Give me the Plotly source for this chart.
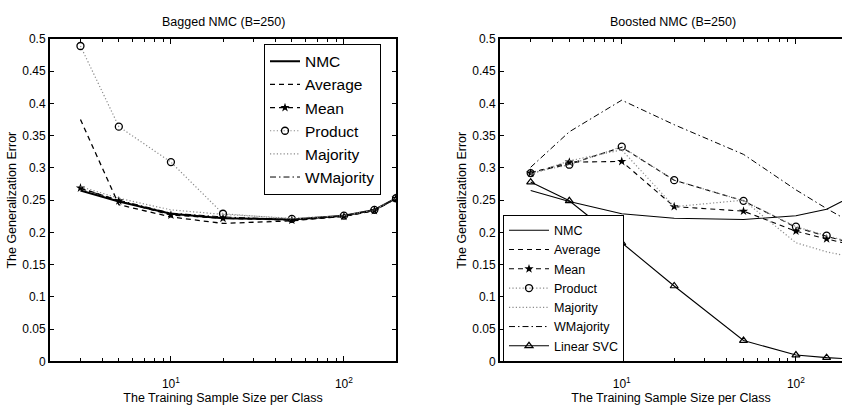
import numpy as np
import plotly.graph_objects as go

# ---------------- data ----------------
sizes = [3, 5, 10, 20, 50, 100, 150, 200]

# Bagged NMC (B=250)
bag_nmc  = [0.265, 0.248, 0.229, 0.222, 0.220, 0.226, 0.235, 0.253]
bag_avg  = [0.375, 0.243, 0.224, 0.214, 0.218, 0.225, 0.234, 0.253]
bag_mean = [0.269, 0.249, 0.227, 0.222, 0.219, 0.225, 0.234, 0.253]
bag_prod = [0.489, 0.364, 0.309, 0.229, 0.221, 0.226, 0.235, 0.253]
bag_maj  = [0.271, 0.253, 0.235, 0.228, 0.222, 0.226, 0.235, 0.253]
bag_wmaj = [0.268, 0.250, 0.230, 0.224, 0.220, 0.226, 0.235, 0.253]

# Boosted NMC (B=250)
bst_nmc  = [0.265, 0.248, 0.229, 0.222, 0.220, 0.226, 0.236, 0.253]
bst_avg  = [0.293, 0.306, 0.332, 0.281, 0.249, 0.208, 0.194, 0.185]
bst_mean = [0.292, 0.309, 0.310, 0.240, 0.233, 0.202, 0.190, 0.182]
bst_prod = [0.292, 0.305, 0.333, 0.281, 0.249, 0.209, 0.195, 0.186]
bst_maj  = [0.290, 0.311, 0.328, 0.240, 0.250, 0.184, 0.170, 0.163]
bst_wmaj = [0.301, 0.356, 0.405, 0.367, 0.321, 0.266, 0.237, 0.218]
bst_svc  = [0.278, 0.249, 0.184, 0.117, 0.0325, 0.010, 0.006, 0.004]

y_ticks = [0, 0.05, 0.1, 0.15, 0.2, 0.25, 0.3, 0.35, 0.4, 0.45, 0.5]
y_ticktext = ["0", "0.05", "0.1", "0.15", "0.2", "0.25", "0.3", "0.35", "0.4", "0.45", "0.5"]
x_major = [10, 100]
x_major_text = ["10<sup>1</sup>", "10<sup>2</sup>"]
x_minor = [2, 3, 4, 5, 6, 7, 8, 9, 20, 30, 40, 50, 60, 70, 80, 90, 200]

FONT = "Liberation Sans, Arial, Helvetica, sans-serif"
GRAY = "#8a8a8a"
DASH = "5px,4px"
DOT = "1.2px,2.2px"
DASHDOT = "6px,3px,1.5px,3px"

fig = go.Figure()

def add_set(xa, ya, legend, nmc, avg, mean, prod, maj, wmaj, nmc_w, other_w):
    fig.add_trace(go.Scatter(x=sizes, y=nmc, name="NMC", mode="lines",
                             line=dict(color="black", width=nmc_w),
                             xaxis=xa, yaxis=ya, legend=legend))
    fig.add_trace(go.Scatter(x=sizes, y=avg, name="Average", mode="lines",
                             line=dict(color="black", width=other_w, dash=DASH),
                             xaxis=xa, yaxis=ya, legend=legend))
    fig.add_trace(go.Scatter(x=sizes, y=mean, name="Mean", mode="lines+markers",
                             line=dict(color="black", width=other_w, dash=DASH),
                             marker=dict(symbol="star", size=7, color="black"),
                             xaxis=xa, yaxis=ya, legend=legend))
    fig.add_trace(go.Scatter(x=sizes, y=prod, name="Product", mode="lines+markers",
                             line=dict(color=GRAY, width=1.2, dash=DOT),
                             marker=dict(symbol="circle-open", size=7, color="black",
                                         line=dict(width=1.3, color="black")),
                             xaxis=xa, yaxis=ya, legend=legend))
    fig.add_trace(go.Scatter(x=sizes, y=maj, name="Majority", mode="lines",
                             line=dict(color=GRAY, width=1.2, dash=DOT),
                             xaxis=xa, yaxis=ya, legend=legend))
    fig.add_trace(go.Scatter(x=sizes, y=wmaj, name="WMajority", mode="lines",
                             line=dict(color="black", width=1, dash=DASHDOT),
                             xaxis=xa, yaxis=ya, legend=legend))

add_set("x", "y", "legend", bag_nmc, bag_avg, bag_mean, bag_prod, bag_maj, bag_wmaj, 2, 1.3)
add_set("x2", "y2", "legend2", bst_nmc, bst_avg, bst_mean, bst_prod, bst_maj, bst_wmaj, 1.1, 1.1)
fig.add_trace(go.Scatter(x=sizes, y=bst_svc, name="Linear SVC", mode="lines+markers",
                         line=dict(color="black", width=1.1),
                         marker=dict(symbol="triangle-up-open", size=7, color="black",
                                     line=dict(width=1.2, color="black")),
                         xaxis="x2", yaxis="y2", legend="legend2"))

def xaxis_cfg(domain, rng, mirror):
    return dict(type="log", domain=domain, range=rng,
                tickmode="array", tickvals=x_major, ticktext=x_major_text,
                ticks="inside", ticklen=5, tickwidth=1, tickcolor="black",
                ticklabelstandoff=10,
                minor=dict(tickmode="array", tickvals=x_minor, ticks="inside",
                           ticklen=3, tickwidth=1, tickcolor="black", showgrid=False),
                showline=True, linecolor="black", linewidth=2, mirror=mirror,
                showgrid=False, zeroline=False,
                tickfont=dict(family=FONT, size=12, color="black"),
                title=dict(text="The Training Sample Size per Class",
                           font=dict(family=FONT, size=12.5, color="black"), standoff=0))

def yaxis_cfg(domain, anchor, mirror):
    return dict(domain=domain, range=[0, 0.5], anchor=anchor,
                tickmode="array", tickvals=y_ticks, ticktext=y_ticktext,
                ticks="inside", ticklen=4, tickwidth=1, tickcolor="black",
                showline=True, linecolor="black", linewidth=2, mirror=mirror,
                showgrid=False, zeroline=False,
                tickfont=dict(family=FONT, size=12, color="black"),
                title=dict(text="The Generalization Error",
                           font=dict(family=FONT, size=12.5, color="black"), standoff=3))

ydom = [44 / 411, 378 / 411]
fig.update_layout(
    width=842, height=411,
    margin=dict(l=0, r=0, t=0, b=0),
    paper_bgcolor="white", plot_bgcolor="white",
    font=dict(family=FONT, color="black"),
    xaxis=xaxis_cfg([50 / 842, 396 / 842], [np.log10(2), np.log10(200)], "allticks"),
    yaxis=yaxis_cfg(ydom, "x", "allticks"),
    xaxis2=dict(xaxis_cfg([500 / 842, 1.0], [np.log10(2), 2.2644], "allticks"), anchor="y2"),
    yaxis2=yaxis_cfg(ydom, "x2", False),
    legend=dict(x=264 / 842, y=1 - 38 / 411, xanchor="left", yanchor="top",
                bordercolor="black", borderwidth=1, bgcolor="white",
                font=dict(family=FONT, size=15.5, color="black"),
                tracegroupgap=0, itemwidth=30),
    legend2=dict(x=503 / 842, y=1 - 215 / 411, xanchor="left", yanchor="top",
                 bordercolor="black", borderwidth=1, bgcolor="white",
                 font=dict(family=FONT, size=12.5, color="black"),
                 tracegroupgap=0, itemwidth=40),
    showlegend=True,
    annotations=[
        dict(text="Bagged NMC (B=250)", x=223 / 842, y=1 - 16 / 411, xref="paper", yref="paper",
             xanchor="center", yanchor="middle",
             showarrow=False, font=dict(family=FONT, size=12.5, color="black")),
        dict(text="Boosted NMC (B=250)", x=673 / 842, y=1 - 16 / 411, xref="paper", yref="paper",
             xanchor="center", yanchor="middle",
             showarrow=False, font=dict(family=FONT, size=12.5, color="black")),
    ],
)

fig.write_html("out.html")
